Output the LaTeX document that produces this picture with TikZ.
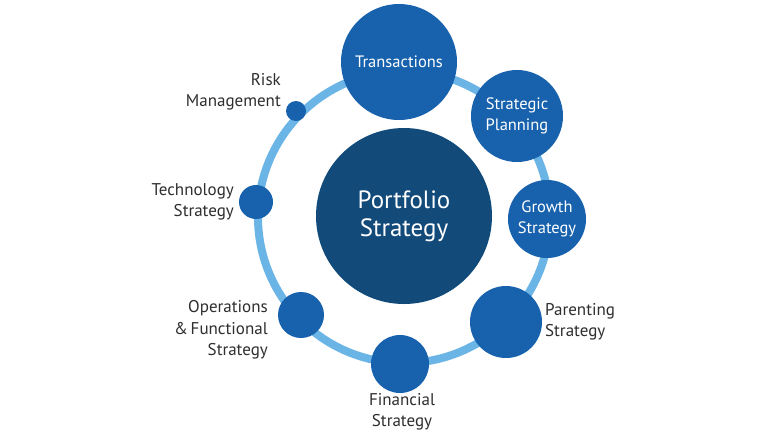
\documentclass[tikz,border=0pt]{standalone}
\usepackage{fontspec}
\setmainfont{PT Sans}
\definecolor{navy}{HTML}{124A7A}
\definecolor{nodeblue}{HTML}{1862AD}
\definecolor{ringblue}{HTML}{6AB4E6}
\definecolor{labelgray}{HTML}{2E2E2E}
\begin{document}
\begin{tikzpicture}[x=1pt,y=-1pt,
  orb/.style={circle,fill=nodeblue,inner sep=0pt,text=white,align=center,
     font=\fontsize{16.5}{20.5}\selectfont},
  lbl/.style={text=labelgray,font=\fontsize{17}{21.5}\selectfont,inner sep=0pt},
]
\useasboundingbox (0,0) rectangle (768,432);
\fill[white] (0,0) rectangle (768,432);
\coordinate (ringc) at (404,217);
\draw[ringblue,line width=8pt] (ringc) circle[radius=146];
\node[circle,fill=navy,minimum size=176pt,inner sep=0pt,text=white,align=center,
  font=\fontsize{25}{28}\selectfont] (core) at (404,216) {Portfolio\\Strategy};
\node[orb,minimum size=116pt] (trans) at (399,62) {Transactions};
\node[orb,minimum size=92pt] (plan) at (517,116) {Strategic\\Planning};
\node[orb,minimum size=78pt] (growth) at (547,219) {Growth\\Strategy};
\node[orb,minimum size=72pt] (parent) at (506,322) {};
\node[orb,minimum size=58pt] (fin) at (400,364) {};
\node[orb,minimum size=46pt] (ops) at (301,315) {};
\node[orb,minimum size=34pt] (tech) at (256,202) {};
\node[orb,minimum size=20pt] (risk) at (296,111) {};
\node[lbl,anchor=east,align=right] (risklbl) at (281,92) {Risk\\Management};
\node[lbl,anchor=east,align=right] (techlbl) at (234,202) {Technology\\Strategy};
\node[lbl,anchor=east,align=right] (opslbl) at (268,330) {Operations\\\&\,Functional\\Strategy};
\node[lbl,align=center] (finlbl) at (402,412) {Financial\\Strategy};
\node[lbl,anchor=west,align=left] (parentlbl) at (545,322) {Parenting\\Strategy};
\end{tikzpicture}
\end{document}
